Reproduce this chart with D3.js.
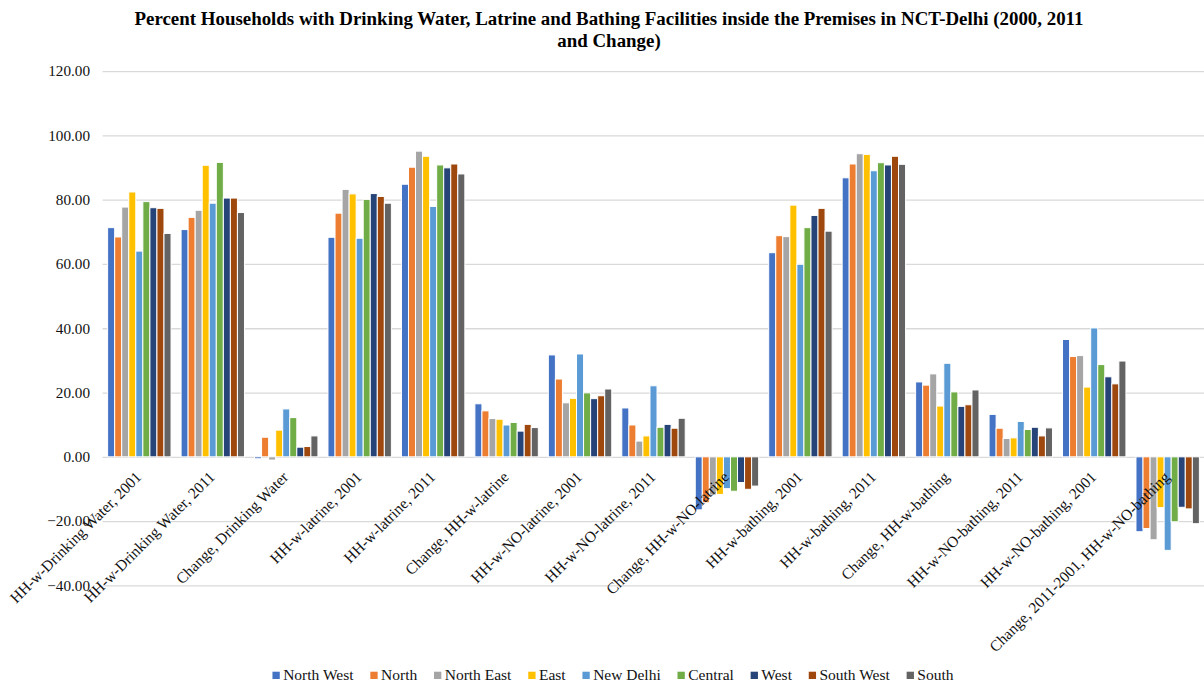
<!DOCTYPE html>
<html>
<head>
<meta charset="utf-8">
<script src="https://cdn.jsdelivr.net/npm/d3@7"></script>
<style>
  html, body { margin: 0; padding: 0; background: #fff; }
  svg { display: block; }
  text { font-family: "Liberation Serif", "Times New Roman", serif; }
</style>
</head>
<body>
<svg id="chart" width="1204" height="686"></svg>
<script>
// Indicator categories along the x axis
const categories = [
  "HH-w-Drinking Water, 2001",
  "HH-w-Drinking Water, 2011",
  "Change, Drinking Water",
  "HH-w-latrine, 2001",
  "HH-w-latrine, 2011",
  "Change, HH-w-latrine",
  "HH-w-NO-latrine, 2001",
  "HH-w-NO-latrine, 2011",
  "Change, HH-w-NO-latrine",
  "HH-w-bathing, 2001",
  "HH-w-bathing, 2011",
  "Change, HH-w-bathing",
  "HH-w-NO-bathing, 2011",
  "HH-w-NO-bathing, 2001",
  "Change, 2011-2001, HH-w-NO-bathing"
];

// District names (series)
const districts = ["North West", "North", "North East", "East", "New Delhi", "Central", "West", "South West", "South"];

// Percent values per district, in category order
const northWest = [71.3, 70.7, -0.6, 68.3, 84.8, 16.5, 31.7, 15.2, -16.5, 63.5, 86.8, 23.3, 13.2, 36.5, -23.3];
const north     = [68.4, 74.5,  6.1, 75.8, 90.1, 14.3, 24.2,  9.9, -14.3, 68.8, 91.1, 22.3,  8.9, 31.2, -22.3];
const northEast = [77.7, 76.7, -1.0, 83.2, 95.1, 11.9, 16.8,  4.9, -11.9, 68.5, 94.3, 25.8,  5.7, 31.5, -25.8];
const east      = [82.4, 90.7,  8.3, 81.8, 93.5, 11.7, 18.2,  6.5, -11.7, 78.3, 94.1, 15.8,  5.9, 21.7, -15.8];
const newDelhi  = [64.0, 78.9, 14.9, 68.0, 77.9,  9.9, 32.0, 22.1,  -9.9, 59.9, 89.0, 29.1, 11.0, 40.1, -29.1];
const central   = [79.4, 91.6, 12.2, 80.1, 90.8, 10.7, 19.9,  9.2, -10.7, 71.3, 91.5, 20.2,  8.5, 28.7, -20.2];
const west      = [77.5, 80.5,  3.0, 81.9, 89.9,  8.0, 18.1, 10.1,  -8.0, 75.1, 90.8, 15.7,  9.2, 24.9, -15.7];
const southWest = [77.3, 80.5,  3.2, 81.0, 91.1, 10.1, 19.0,  8.9, -10.1, 77.3, 93.5, 16.2,  6.5, 22.7, -16.2];
const south     = [69.5, 76.0,  6.5, 78.9, 88.0,  9.1, 21.1, 12.0,  -9.1, 70.2, 91.0, 20.8,  9.0, 29.8, -20.8];

const seriesValues = [northWest, north, northEast, east, newDelhi, central, west, southWest, south];
const colors = ["#4472C4", "#ED7D31", "#A5A5A5", "#FFC000", "#5B9BD5", "#70AD47", "#264478", "#9E480E", "#636363"];

// Value axis ticks
const yTicks = [-40, -20, 0, 20, 40, 60, 80, 100, 120];

const titleLines = [
  "Percent Households with Drinking Water, Latrine and Bathing Facilities inside the Premises in NCT-Delhi (2000, 2011",
  "and Change)"
];

const svg = d3.select("#chart");
const plot = { left: 102.6, right: 1204.4, top: 71.1, bottom: 585.4 };

const x0 = d3.scaleBand().domain(categories).range([plot.left, plot.right]).padding(0);
const groupWidth = 63.4;
const x1 = d3.scaleBand().domain(districts).range([0, groupWidth]).padding(0);
const y = d3.scaleLinear().domain([-40, 120]).range([plot.bottom, plot.top]);

// Title
svg.append("g").selectAll("text").data(titleLines).join("text")
  .attr("x", 609)
  .attr("y", (d, i) => 24.5 + i * 22)
  .attr("text-anchor", "middle")
  .attr("font-size", 18.9)
  .attr("font-weight", "bold")
  .attr("fill", "#000")
  .text(d => d);

// Gridlines
svg.append("g")
  .attr("transform", `translate(${plot.left},0)`)
  .call(d3.axisLeft(y).tickValues(yTicks).tickSize(-(plot.right - plot.left)).tickFormat(""))
  .call(g => g.select(".domain").remove())
  .call(g => g.selectAll("line").attr("stroke", "#d9d9d9").attr("stroke-width", 1.3));

// Y tick labels
svg.append("g")
  .attr("transform", `translate(90,0)`)
  .call(d3.axisLeft(y).tickValues(yTicks).tickSize(0).tickPadding(0).tickFormat(d3.format(".2f")))
  .call(g => g.select(".domain").remove())
  .call(g => g.selectAll("text")
    .attr("font-family", "Liberation Serif, Times New Roman, serif")
    .attr("font-size", 15.2)
    .attr("fill", "#111"));

// Bars
const groups = svg.append("g").selectAll("g")
  .data(categories)
  .join("g")
  .attr("transform", d => `translate(${x0(d) + (x0.bandwidth() - groupWidth) / 2},0)`);

groups.selectAll("rect")
  .data((c, ci) => districts.map((dName, si) => ({ district: dName, value: seriesValues[si][ci], color: colors[si] })))
  .join("rect")
  .attr("x", d => x1(d.district))
  .attr("width", x1.bandwidth())
  .attr("y", d => y(Math.max(0, d.value)))
  .attr("height", d => Math.abs(y(d.value) - y(0)))
  .attr("fill", d => d.color)
  .attr("stroke", "#fff")
  .attr("stroke-width", 1);

// Category labels, rotated
svg.append("g").selectAll("text")
  .data(categories)
  .join("text")
  .attr("transform", d => `translate(${x0(d) + x0.bandwidth() / 2 + 3},478) rotate(-45)`)
  .attr("text-anchor", "end")
  .attr("font-size", 15.5)
  .attr("fill", "#111")
  .text(d => d);

// Legend
const legend = svg.append("g").attr("transform", "translate(0,680)");
const items = legend.selectAll("g").data(districts).join("g");
items.append("rect")
  .attr("width", 7.3).attr("height", 7.3).attr("y", -8.3)
  .attr("fill", (d, i) => colors[i]);
items.append("text")
  .attr("x", 10.7).attr("y", 0)
  .attr("font-size", 15.5)
  .attr("fill", "#111")
  .text(d => d);
let widths = [];
items.each(function () { widths.push(10.7 + this.querySelector("text").getComputedTextLength()); });
const gap = 16.8;
const total = d3.sum(widths) + gap * (widths.length - 1);
let cx = 613 - total / 2;
items.attr("transform", (d, i) => {
  const t = `translate(${cx},0)`;
  cx += widths[i] + gap;
  return t;
});
</script>
</body>
</html>
